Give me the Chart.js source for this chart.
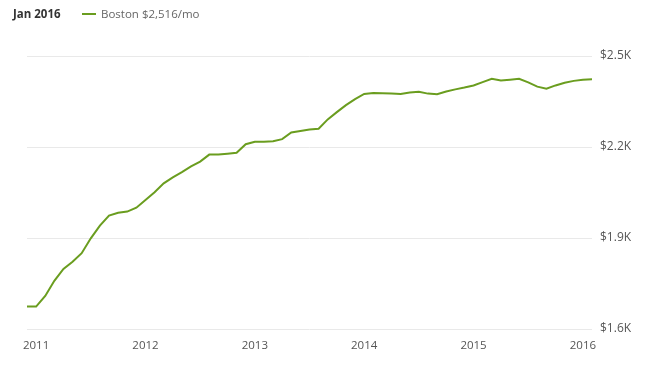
<!DOCTYPE html>
<html>
<head>
<meta charset="utf-8">
<script src="https://cdn.jsdelivr.net/npm/chart.js@4/dist/chart.umd.min.js"></script>
<style>
  html, body { margin: 0; padding: 0; background: #fff; }
  #wrap { position: relative; width: 672px; height: 375px; overflow: hidden; }
  canvas { position: absolute; left: 0; top: 0; }
  .hdr { position: absolute; top: 6px; font-family: 'Open Sans', sans-serif; font-size: 11.5px; line-height: 16px; white-space: nowrap; }
  #date { left: 13px; font-weight: bold; color: #333; }
  #leg { left: 82px; color: #666; }
  #leg .sw { display: inline-block; width: 14px; height: 2px; background: #6a9d1f; vertical-align: middle; margin-right: 5px; position: relative; top: -1px; }
</style>
</head>
<body>
<div id="wrap">
  <canvas id="c" width="672" height="375"></canvas>
  <div class="hdr" id="date">Jan 2016</div>
  <div class="hdr" id="leg"><span class="sw"></span>Boston $2,516/mo</div>
</div>
<script>
// Monthly median rent, Dec 2010 .. Feb 2016 (index 0 = Dec 2010)
const months = Array.from({length: 63}, (_, i) => i);
const bostonRent = [
  1674, 1674, 1709, 1759, 1798, 1822, 1850, 1899, 1941, 1974,
  1983, 1987, 2000, 2025, 2051, 2080, 2100, 2117, 2136, 2152,
  2175, 2175, 2178, 2181, 2209, 2217, 2217, 2219, 2226, 2248,
  2253, 2258, 2260, 2291, 2315, 2338, 2358, 2375, 2378, 2377,
  2376, 2375, 2380, 2382, 2376, 2374, 2383, 2390, 2396, 2403,
  2414, 2425, 2419, 2422, 2425, 2413, 2399, 2392, 2403, 2412,
  2418, 2422, 2423
];
const yearTickPositions = [1, 13, 25, 37, 49, 61];
const yearTickLabels = ['2011', '2012', '2013', '2014', '2015', '2016'];
const yTicks = [1600, 1900, 2200, 2500];

const xFont = { family: "'Open Sans', sans-serif", size: 11.5 };
const yFont = { family: "'Open Sans', sans-serif", size: 12 };

new Chart(document.getElementById('c'), {
  type: 'line',
  data: {
    labels: months,
    datasets: [{
      label: 'Boston',
      data: months.map((m, i) => ({ x: m, y: bostonRent[i] })),
      borderColor: '#6a9d1f',
      borderWidth: 2,
      pointRadius: 0,
      tension: 0,
      fill: false
    }]
  },
  options: {
    responsive: false,
    animation: false,
    devicePixelRatio: 1,
    layout: { padding: { left: 27, top: 56, right: 0, bottom: 0 } },
    plugins: { legend: { display: false }, tooltip: { enabled: false } },
    scales: {
      x: {
        type: 'linear',
        min: 0,
        max: 62,
        afterBuildTicks: (s) => { s.ticks = yearTickPositions.map(v => ({ value: v })); },
        afterFit: (s) => { s.height = 46; },
        ticks: {
          font: xFont,
          color: '#555',
          padding: 10,
          maxRotation: 0,
          autoSkip: false,
          callback: (v) => yearTickLabels[yearTickPositions.indexOf(v)]
        },
        grid: { display: false, drawTicks: false },
        border: { display: false }
      },
      y: {
        position: 'right',
        min: 1600,
        max: 2500,
        afterBuildTicks: (s) => { s.ticks = yTicks.map(v => ({ value: v })); },
        afterFit: (s) => { s.width = 80; },
        ticks: {
          font: yFont,
          color: '#555',
          padding: 8,
          callback: (v) => '$' + (v / 1000).toFixed(1) + 'K'
        },
        grid: { color: '#e9e9e9', lineWidth: 1, drawTicks: false },
        border: { display: false }
      }
    }
  }
});
</script>
</body>
</html>
